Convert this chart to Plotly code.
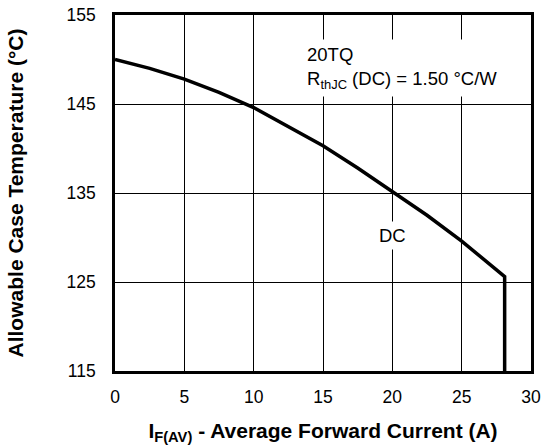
import plotly.graph_objects as go

# Data
current_a = [0, 2.5, 5, 7.5, 10, 12.5, 15, 17.5, 20, 22.5, 25, 28.1, 28.1]
case_temp_c = [150.0, 149.0, 147.8, 146.3, 144.6, 142.5, 140.3, 137.8, 135.2, 132.5, 129.6, 125.6, 115.0]
x_ticks = [0, 5, 10, 15, 20, 25, 30]
y_ticks = [115, 125, 135, 145, 155]

FONT = "Liberation Sans, Arial, Helvetica, sans-serif"

fig = go.Figure()
fig.add_trace(go.Scatter(
    x=current_a, y=case_temp_c, mode="lines",
    line=dict(color="black", width=3.5), showlegend=False, hoverinfo="skip",
    cliponaxis=False,
))

fig.add_annotation(
    x=15, y=149.0, xref="x", yref="y", xanchor="left", yanchor="middle",
    text="20TQ<br>R<sub>thJC</sub> (DC) = 1.50 °C/W", align="left",
    showarrow=False, font=dict(family=FONT, size=18.5, color="black"),
    bgcolor="white", borderpad=4, xshift=-21,
)
fig.add_annotation(
    x=20, y=130.2, xref="x", yref="y", xanchor="center", yanchor="middle",
    text="DC", showarrow=False, font=dict(family=FONT, size=18.5, color="black"),
    bgcolor="white", borderpad=3,
)

axis_common = dict(
    showgrid=True, gridcolor="black", gridwidth=1,
    showline=True, linecolor="black", linewidth=2.5, mirror=True,
    ticks="", zeroline=False, automargin=False,
    tickfont=dict(family=FONT, size=17.5, color="black"),
)

fig.update_layout(
    template="none",
    width=541, height=448,
    margin=dict(l=115, r=10, t=15, b=77),
    paper_bgcolor="white", plot_bgcolor="white",
    xaxis=dict(
        range=[0, 30], tickvals=x_ticks, ticktext=[str(v) for v in x_ticks],
        ticklabelstandoff=8,
        title=dict(text="<b>I<sub>F(AV)</sub> - Average Forward Current (A)</b>",
                   font=dict(family=FONT, size=21, color="black"), standoff=18),
        **axis_common,
    ),
    yaxis=dict(
        range=[115, 155], tickvals=y_ticks, ticktext=[str(v) for v in y_ticks],
        ticklabelstandoff=13,
        title=dict(text="<b>Allowable Case Temperature (°C)</b>",
                   font=dict(family=FONT, size=21, color="black"), standoff=38),
        **axis_common,
    ),
)

fig.write_html(
    "out.html",
    config={"displayModeBar": False},
    post_script="document.body.style.margin='0';document.body.style.padding='0';",
)
